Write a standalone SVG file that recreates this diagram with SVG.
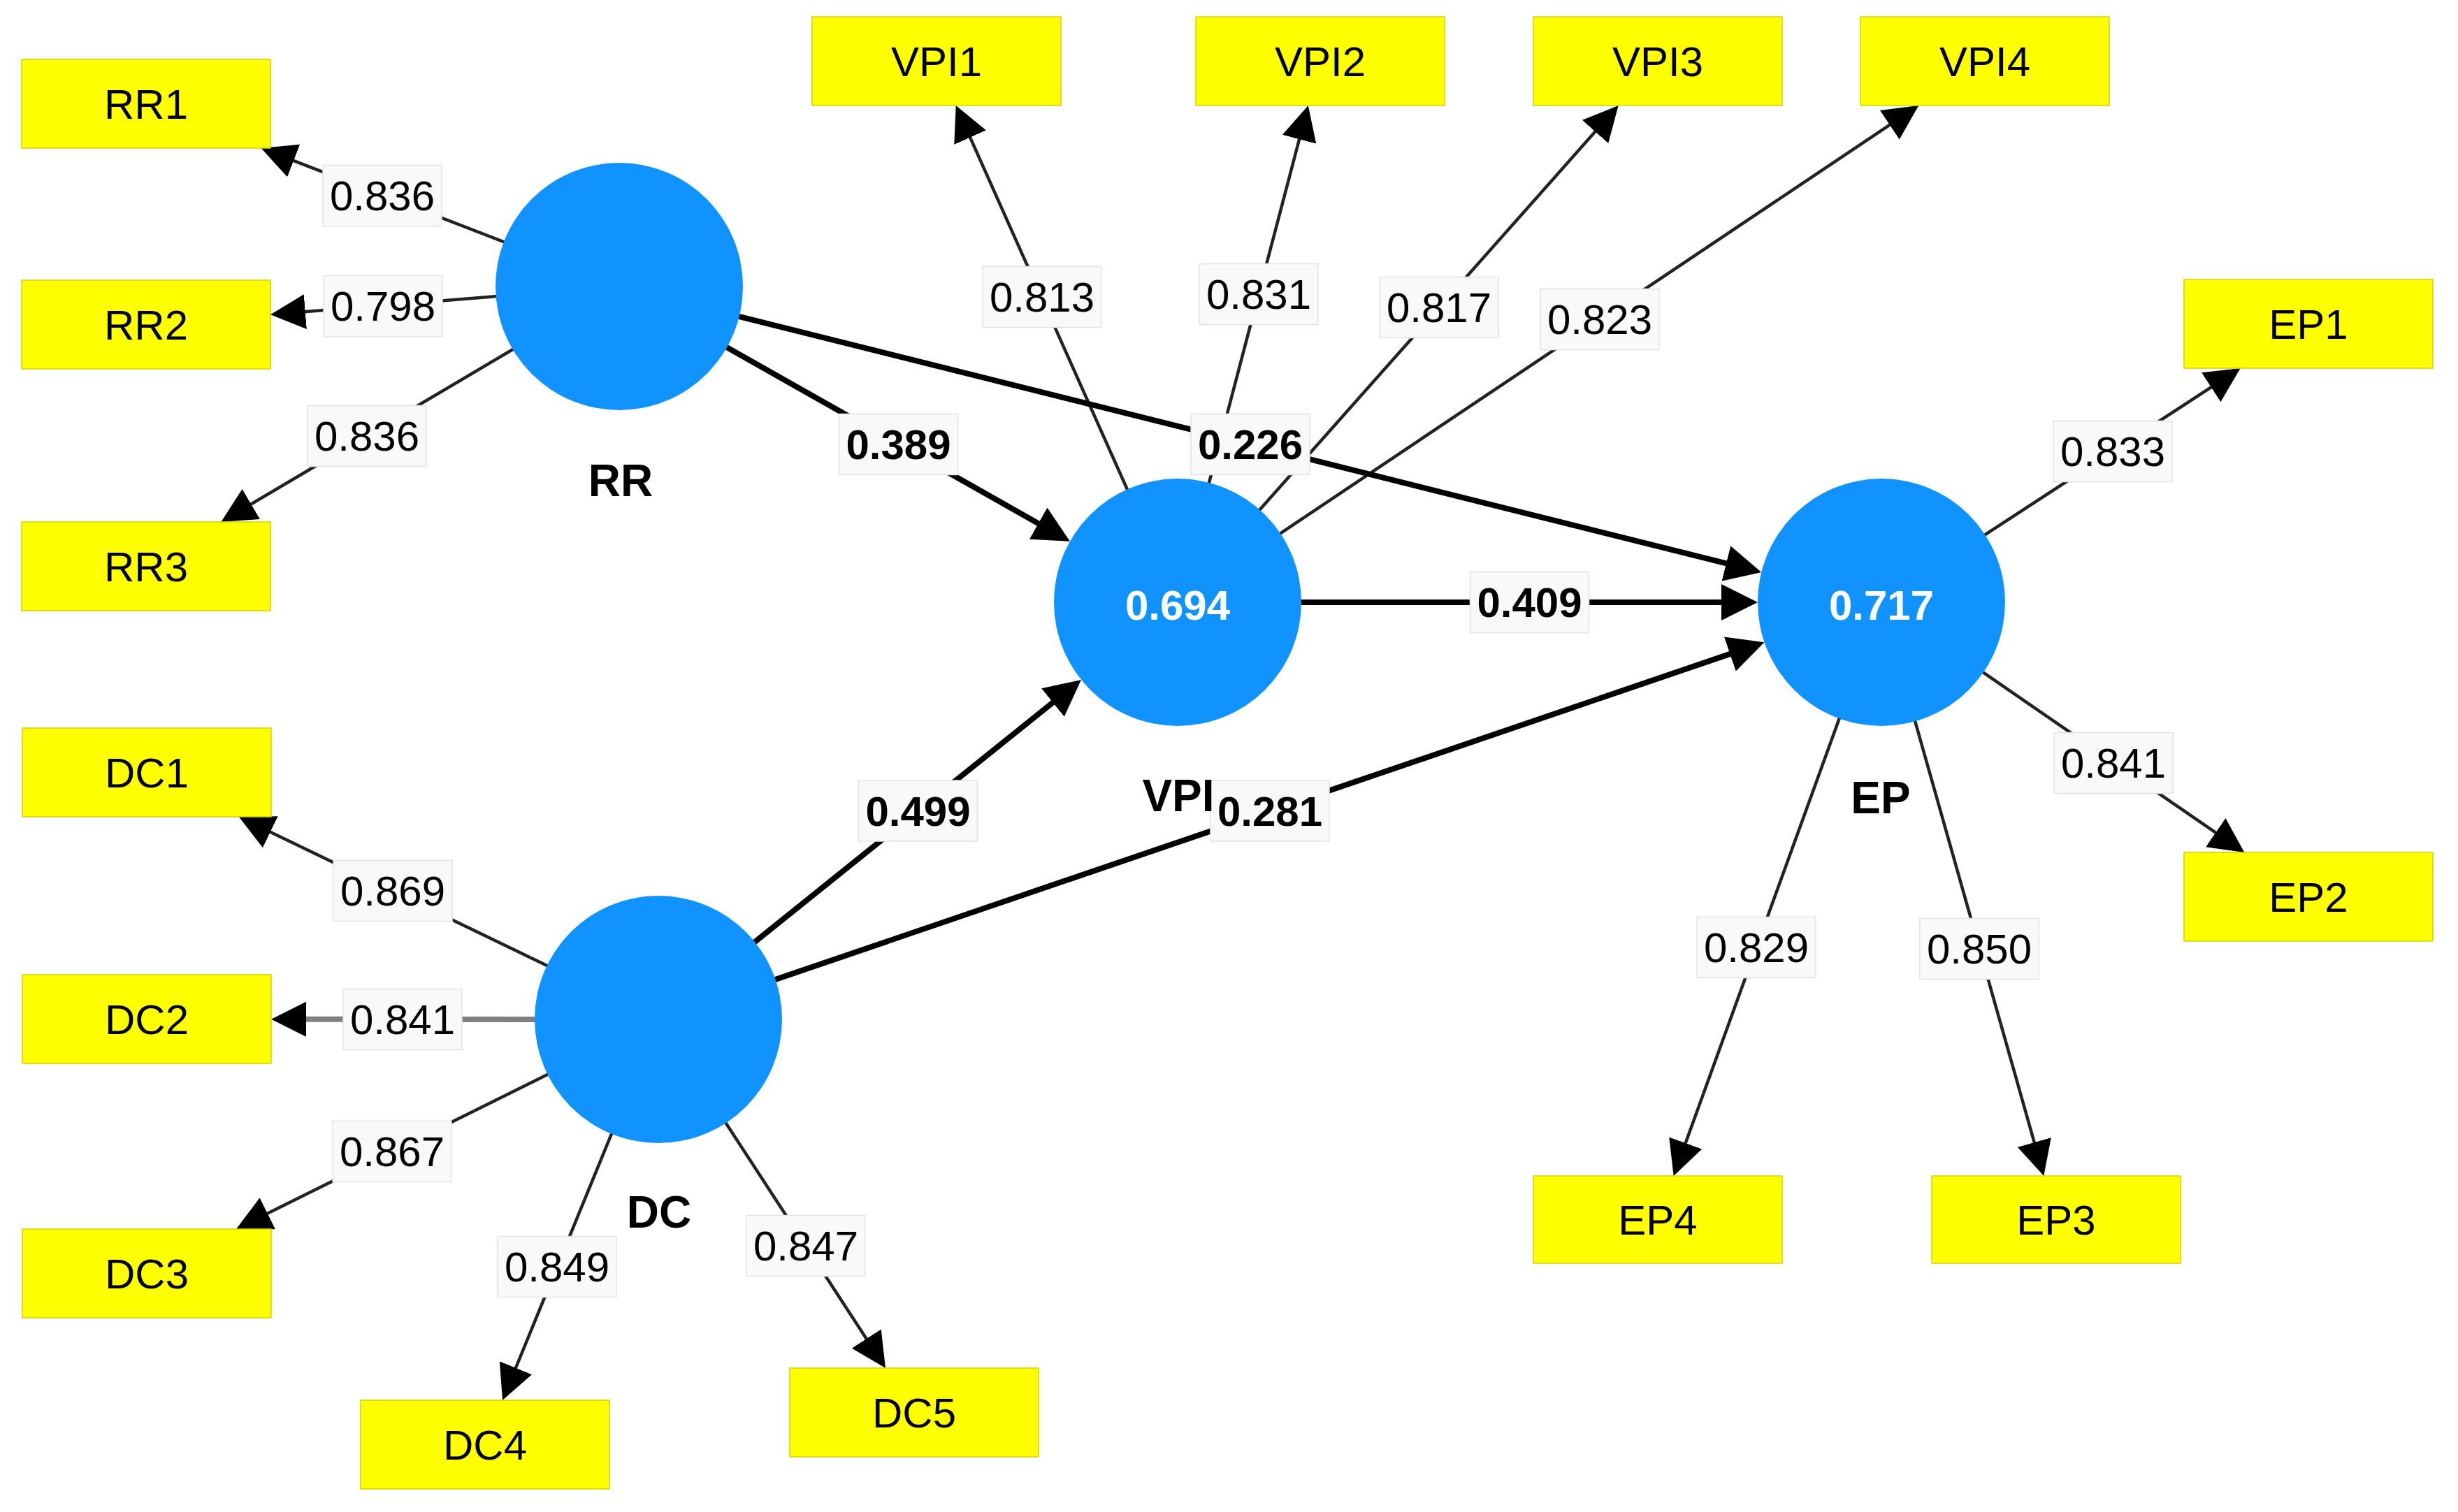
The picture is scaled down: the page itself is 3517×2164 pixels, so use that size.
<svg xmlns="http://www.w3.org/2000/svg" width="3517" height="2164" viewBox="0 0 3517 2164">
<style>
.bg{fill:#ffffff}
.ind rect{fill:#ffff00;stroke:#d2d200;stroke-width:1.5}
.ind text{font-family:"Liberation Sans",Arial,sans-serif;font-size:60px;fill:#000;text-anchor:middle}
.lat circle{fill:#1193ff}
.lat .val{font-family:"Liberation Sans",Arial,sans-serif;font-size:60px;font-weight:bold;fill:#ffffff;text-anchor:middle}
.lat .name{font-family:"Liberation Sans",Arial,sans-serif;font-size:64px;font-weight:bold;fill:#000;text-anchor:middle}
.load{stroke:#222;stroke-width:4.5;fill:none;marker-end:url(#al)}
.loadg{stroke:#808080;stroke-width:8;fill:none;marker-end:url(#al)}
.path{stroke:#000;stroke-width:8;fill:none;marker-end:url(#ap)}
.lbl rect{fill:#f9f9f9;stroke:#e2e2e2;stroke-width:1.5}
.lbl text{font-family:"Liberation Sans",Arial,sans-serif;font-size:60px;fill:#000;text-anchor:middle}
.lbl.b text{font-weight:bold}
</style>
<defs>
<marker id="al" markerUnits="userSpaceOnUse" markerWidth="50" markerHeight="50" viewBox="0 0 50 50" refX="30" refY="25" orient="auto"><path d="M0,0 L50,25 L0,50 Z" fill="#000"/></marker>
<marker id="ap" markerUnits="userSpaceOnUse" markerWidth="52" markerHeight="52" viewBox="0 0 52 52" refX="22" refY="26" orient="auto"><path d="M0,0 L52,26 L0,52 Z" fill="#000"/></marker>
</defs>
<rect class="bg" x="0" y="0" width="3517" height="2164"/>
<g id="connectors">
<line class="load" x1="886" y1="410" x2="392.2" y2="219.2"/>
<line class="load" x1="886" y1="410" x2="406.9" y2="448.6"/>
<line class="load" x1="886" y1="410" x2="333.5" y2="736.8"/>
<line class="load" x1="942" y1="1459" x2="359.8" y2="1177.7"/>
<line class="loadg" x1="942" y1="1459" x2="408" y2="1458.7"/>
<line class="load" x1="942" y1="1459" x2="355.9" y2="1750.1"/>
<line class="load" x1="942" y1="1459" x2="726.6" y2="1985.5"/>
<line class="load" x1="942" y1="1459" x2="1256.1" y2="1941.2"/>
<line class="load" x1="1685" y1="862" x2="1375.9" y2="169.3"/>
<line class="load" x1="1685" y1="862" x2="1866.7" y2="170.3"/>
<line class="load" x1="1685" y1="862" x2="2302.4" y2="166"/>
<line class="load" x1="1685" y1="862" x2="2728.7" y2="162.1"/>
<line class="load" x1="2692" y1="862" x2="3188.9" y2="537.9"/>
<line class="load" x1="2692" y1="862" x2="3194.9" y2="1208.7"/>
<line class="load" x1="2692" y1="862" x2="2918.9" y2="1663.8"/>
<line class="load" x1="2692" y1="862" x2="2401.5" y2="1664.2"/>
<line class="path" x1="886" y1="410" x2="1504.8" y2="760"/>
<line class="path" x1="886" y1="410" x2="2491.2" y2="811.7"/>
<line class="path" x1="1685" y1="862" x2="2485" y2="862"/>
<line class="path" x1="942" y1="1459" x2="1523.6" y2="991.7"/>
<line class="path" x1="942" y1="1459" x2="2496.1" y2="928.9"/>
<g class="lbl"><rect x="462" y="236.5" width="170" height="87"/><text x="547" y="301">0.836</text></g>
<g class="lbl"><rect x="463" y="394.5" width="170" height="87"/><text x="548" y="459">0.798</text></g>
<g class="lbl"><rect x="440" y="580.5" width="170" height="87"/><text x="525" y="645">0.836</text></g>
<g class="lbl"><rect x="477" y="1231.5" width="170" height="87"/><text x="562" y="1296">0.869</text></g>
<g class="lbl"><rect x="491" y="1415.5" width="170" height="87"/><text x="576" y="1480">0.841</text></g>
<g class="lbl"><rect x="476" y="1604.5" width="170" height="87"/><text x="561" y="1669">0.867</text></g>
<g class="lbl"><rect x="712" y="1769.5" width="170" height="87"/><text x="797" y="1834">0.849</text></g>
<g class="lbl"><rect x="1068" y="1739.5" width="170" height="87"/><text x="1153" y="1804">0.847</text></g>
<g class="lbl"><rect x="1406" y="381.5" width="170" height="87"/><text x="1491" y="446">0.813</text></g>
<g class="lbl"><rect x="1716" y="377.5" width="170" height="87"/><text x="1801" y="442">0.831</text></g>
<g class="lbl"><rect x="1974" y="396.5" width="170" height="87"/><text x="2059" y="461">0.817</text></g>
<g class="lbl"><rect x="2204" y="413.5" width="170" height="87"/><text x="2289" y="478">0.823</text></g>
<g class="lbl"><rect x="2938" y="602.5" width="170" height="87"/><text x="3023" y="667">0.833</text></g>
<g class="lbl"><rect x="2939" y="1048.5" width="170" height="87"/><text x="3024" y="1113">0.841</text></g>
<g class="lbl"><rect x="2428" y="1312.5" width="170" height="87"/><text x="2513" y="1377">0.829</text></g>
<g class="lbl"><rect x="2747" y="1314.5" width="170" height="87"/><text x="2832" y="1379">0.850</text></g>
<g class="lbl b"><rect x="1200.5" y="592.5" width="170" height="87"/><text x="1285.5" y="657">0.389</text></g>
<g class="lbl b"><rect x="1704" y="592.5" width="170" height="87"/><text x="1789" y="657">0.226</text></g>
<g class="lbl b"><rect x="2103.5" y="818.5" width="170" height="87"/><text x="2188.5" y="883">0.409</text></g>
<g class="lbl b"><rect x="1228.5" y="1117" width="170" height="87"/><text x="1313.5" y="1181.5">0.499</text></g>
<g class="lbl b"><rect x="1732" y="1117" width="170" height="87"/><text x="1817" y="1181.5">0.281</text></g>
</g>
<g id="RR" class="lat"><circle cx="886" cy="410" r="177"/><text class="name" x="888" y="710">RR</text></g>
<g id="VPI" class="lat"><circle cx="1685" cy="862" r="177"/><text class="val" x="1685" y="887">0.694</text><text class="name" x="1686" y="1161">VPI</text></g>
<g id="EP" class="lat"><circle cx="2692" cy="862" r="177"/><text class="val" x="2692" y="887">0.717</text><text class="name" x="2691" y="1164">EP</text></g>
<g id="DC" class="lat"><circle cx="942" cy="1459" r="177"/><text class="name" x="943" y="1757">DC</text></g>
<g id="RR1" class="ind"><rect x="31" y="85" width="356" height="127"/><text x="209" y="170">RR1</text></g>
<g id="RR2" class="ind"><rect x="31" y="401" width="356" height="127"/><text x="209" y="486">RR2</text></g>
<g id="RR3" class="ind"><rect x="31" y="747" width="356" height="127"/><text x="209" y="832">RR3</text></g>
<g id="DC1" class="ind"><rect x="32" y="1042" width="356" height="127"/><text x="210" y="1127">DC1</text></g>
<g id="DC2" class="ind"><rect x="32" y="1395" width="356" height="127"/><text x="210" y="1480">DC2</text></g>
<g id="DC3" class="ind"><rect x="32" y="1759" width="356" height="127"/><text x="210" y="1844">DC3</text></g>
<g id="DC4" class="ind"><rect x="516" y="2004" width="356" height="127"/><text x="694" y="2089">DC4</text></g>
<g id="DC5" class="ind"><rect x="1130" y="1958" width="356" height="127"/><text x="1308" y="2043">DC5</text></g>
<g id="VPI1" class="ind"><rect x="1162" y="24" width="356" height="127"/><text x="1340" y="109">VPI1</text></g>
<g id="VPI2" class="ind"><rect x="1711" y="24" width="356" height="127"/><text x="1889" y="109">VPI2</text></g>
<g id="VPI3" class="ind"><rect x="2194" y="24" width="356" height="127"/><text x="2372" y="109">VPI3</text></g>
<g id="VPI4" class="ind"><rect x="2662" y="24" width="356" height="127"/><text x="2840" y="109">VPI4</text></g>
<g id="EP1" class="ind"><rect x="3125" y="400" width="356" height="127"/><text x="3303" y="485">EP1</text></g>
<g id="EP2" class="ind"><rect x="3125" y="1220" width="356" height="127"/><text x="3303" y="1305">EP2</text></g>
<g id="EP3" class="ind"><rect x="2764" y="1683" width="356" height="125"/><text x="2942" y="1767">EP3</text></g>
<g id="EP4" class="ind"><rect x="2194" y="1683" width="356" height="125"/><text x="2372" y="1767">EP4</text></g>
</svg>
